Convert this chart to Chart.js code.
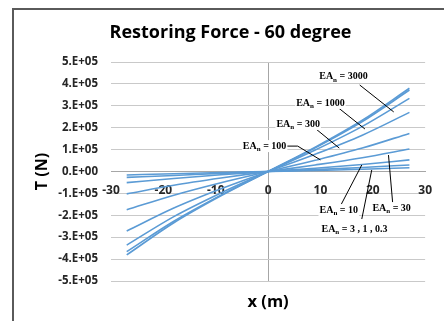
<!DOCTYPE html>
<html>
<head>
<meta charset="utf-8">
<script src="https://cdn.jsdelivr.net/npm/chart.js@4/dist/chart.umd.min.js"></script>
<style>
  html, body { margin: 0; padding: 0; background: #fff; }
  #wrap { position: relative; width: 444px; height: 321px; overflow: hidden; }
  #frame { position: absolute; left: 12px; top: 8px; width: 470px; height: 350px;
           border: 2px solid #5a5a5a; box-sizing: border-box; }
  canvas { position: absolute; left: 0; top: 0; }
</style>
</head>
<body>
<div id="wrap">
  <div id="frame"></div>
  <canvas id="c" width="444" height="321"></canvas>
</div>
<script>
// Horizontal offset of the floater (m)
const offsets = [-27, -18, -9, 0, 9, 18, 27];

// Line tension T (N) for each normalised axial stiffness EA_n
const tensionEA3000 = [-381000, -234000, -111000, 0, 111000, 234000, 380000];
const tensionEA1000 = [-366000, -227000, -108000, 0, 108000, 228000, 372000];
const tensionEA300  = [-336000, -206000,  -98000, 0,  98000, 206000, 334000];
const tensionEA100  = [-272000, -167000,  -79000, 0,  79000, 166000, 270000];
const tensionEA30   = [-175000, -108000,  -51000, 0,  51000, 107000, 174000];
const tensionEA10   = [-102000,  -63000,  -30000, 0,  30000,  63000, 103000];
const tensionEA3    = [ -51000,  -32000,  -15000, 0,  15000,  32000,  53000];
const tensionEA1    = [ -27000,  -18000,   -8500, 0,   8500,  18000,  30000];
const tensionEA03   = [ -16000,  -10000,   -4800, 0,   4800,  10000,  17000];

const seriesNames = ['EA_n = 3000', 'EA_n = 1000', 'EA_n = 300', 'EA_n = 100', 'EA_n = 30',
                     'EA_n = 10', 'EA_n = 3', 'EA_n = 1', 'EA_n = 0.3'];
const seriesValues = [tensionEA3000, tensionEA1000, tensionEA300, tensionEA100, tensionEA30,
                      tensionEA10, tensionEA3, tensionEA1, tensionEA03];

// Axis ranges and tick steps
const xRange = [-30, 30];
const xStep = 10;
const yRange = [-500000, 500000];
const yStep = 100000;

// Callout labels (value after "EA_n = ") with the leader path in data units
const callouts = [
  { value: '3000',        at: [14.4, 432000], path: [[17.5, 395000], [24.0, 272000]] },
  { value: '1000',        at: [10.0, 313000], path: [[13.2, 295000], [18.5, 194000]] },
  { value: '300',         at: [5.75, 217000], path: [[8.9, 199000], [13.6, 107000]] },
  { value: '100',         at: [-0.66, 116000], path: [[3.0, 116000], [5.66, 116000], [10.0, 53000]] },
  { value: '30',          at: [23.6, -167000], path: [[23.8, -144000], [23.0, 75000]] },
  { value: '10',          at: [13.5, -176000], path: [[13.8, -158000], [17.9, 30000]] },
  { value: '3 , 1 , 0.3', at: [16.5, -263000], path: [[17.9, -217000], [19.8, 7000]] }
];

const datasets = seriesValues.map((vals, i) => ({
  label: seriesNames[i],
  data: offsets.map((x, k) => ({ x: x, y: vals[k] })),
  borderColor: '#5b9bd5',
  borderWidth: 1.6,
  pointRadius: 0,
  showLine: true,
  fill: false,
  tension: 0.25,
  cubicInterpolationMode: 'monotone'
}));

// Draws the EA_n callouts with a subscript n and a black leader line
const calloutPlugin = {
  id: 'callouts',
  afterLayout(chart) {
    // centre the title over the framed chart rather than over the canvas
    if (chart.titleBlock) {
      chart.titleBlock.left += 16;
      chart.titleBlock.right += 16;
    }
  },
  afterDatasetsDraw(chart) {
    const ctx = chart.ctx;
    const xs = chart.scales.x, ys = chart.scales.y;
    ctx.save();
    ctx.strokeStyle = '#000';
    ctx.lineWidth = 1;
    callouts.forEach(c => {
      ctx.beginPath();
      c.path.forEach((p, k) => {
        const px = xs.getPixelForValue(p[0]), py = ys.getPixelForValue(p[1]);
        if (k === 0) ctx.moveTo(px, py); else ctx.lineTo(px, py);
      });
      ctx.stroke();
    });
    const mainFont = 'bold 10px "Liberation Serif", "DejaVu Serif", serif';
    const subFont = 'bold 7px "Liberation Serif", "DejaVu Serif", serif';
    ctx.textBaseline = 'middle';
    ctx.textAlign = 'left';
    callouts.forEach(c => {
      const cx = xs.getPixelForValue(c.at[0]), cy = ys.getPixelForValue(c.at[1]);
      ctx.font = mainFont;
      const wA = ctx.measureText('EA').width;
      const tail = ' = ' + c.value;
      const wT = ctx.measureText(tail).width;
      ctx.font = subFont;
      const wN = ctx.measureText('n').width;
      const total = wA + wN + wT;
      const x0 = cx - total / 2;
      ctx.fillStyle = '#fff';
      ctx.fillRect(x0 - 1, cy - 6, total + 2, 12);
      ctx.fillStyle = '#000';
      ctx.font = mainFont;
      ctx.fillText('EA', x0, cy);
      ctx.font = subFont;
      ctx.fillText('n', x0 + wA, cy + 3);
      ctx.font = mainFont;
      ctx.fillText(tail, x0 + wA + wN, cy);
    });
    ctx.restore();
  }
};

const tickColor = '#262626';
const sans = '"Open Sans", "Noto Sans", sans-serif';

new Chart(document.getElementById('c'), {
  type: 'scatter',
  data: { datasets: datasets },
  options: {
    responsive: false,
    animation: false,
    layout: { padding: { left: 0, right: 15, top: 0, bottom: 0 } },
    plugins: {
      legend: { display: false },
      tooltip: { enabled: false },
      title: {
        display: true,
        text: 'Restoring Force - 60 degree',
        color: '#000',
        font: { family: sans, size: 18, weight: 'bold' },
        padding: { top: 22, bottom: 18.4 }
      }
    },
    scales: {
      x: {
        type: 'linear',
        position: { y: 0 },
        min: xRange[0], max: xRange[1],
        ticks: {
          stepSize: xStep,
          padding: 12,
          color: tickColor,
          font: { family: sans, size: 12, weight: 'bold' }
        },
        grid: {
          drawTicks: false,
          color: c => (c.tick && c.tick.value === 0 ? '#a6a6a6' : 'rgba(0,0,0,0)'),
          lineWidth: 1
        },
        border: { display: true, color: '#a6a6a6', width: 1 }
      },
      xTitle: {
        type: 'linear',
        position: 'bottom',
        min: xRange[0], max: xRange[1],
        ticks: { display: false },
        grid: { display: false, drawTicks: false },
        border: { display: false },
        title: {
          display: true,
          text: 'x (m)',
          color: '#000',
          font: { family: sans, size: 16.5, weight: 'bold' },
          padding: { top: 0, bottom: 9 }
        },
        afterFit(scale) { scale.height = 40; }
      },
      y: {
        type: 'linear',
        position: 'left',
        min: yRange[0], max: yRange[1],
        ticks: {
          stepSize: yStep,
          padding: 13,
          color: tickColor,
          font: { family: sans, size: 11.5, weight: 'bold' },
          callback: v => {
            const e = v.toExponential(0);
            const m = e.match(/^(-?\d)e([+-])(\d+)$/);
            return m ? m[1] + '.E' + m[2] + m[3].padStart(2, '0') : e;
          }
        },
        grid: { drawTicks: false, color: '#c9c9c9', lineWidth: 1 },
        border: { display: false },
        title: {
          display: true,
          text: 'T (N)',
          color: '#000',
          font: { family: sans, size: 16, weight: 'bold' },
          padding: { top: 33, bottom: 0 }
        },
        afterFit(scale) { scale.width = 111; }
      }
    }
  },
  plugins: [calloutPlugin]
});
</script>
</body>
</html>
